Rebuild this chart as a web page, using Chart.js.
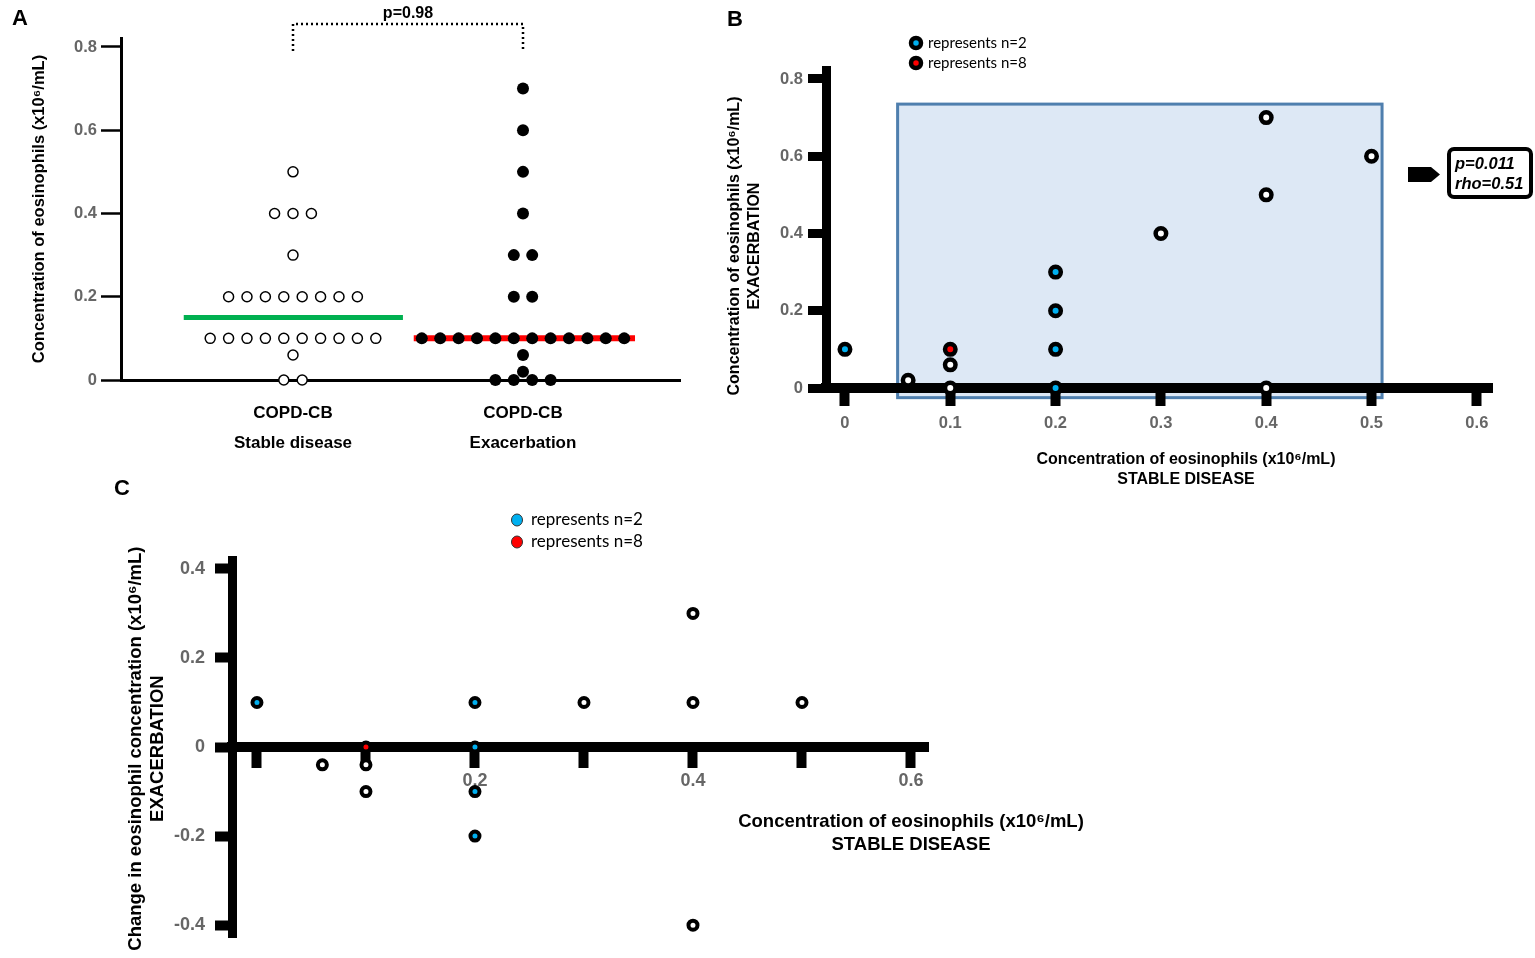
<!DOCTYPE html>
<html>
<head>
<meta charset="utf-8">
<title>Eosinophils in COPD-CB</title>
<script src="https://cdn.jsdelivr.net/npm/chart.js@4.4.1/dist/chart.umd.min.js"></script>
<style>
  html, body { margin: 0; padding: 0; background: #fff; }
  body { position: relative; width: 1535px; height: 958px; overflow: hidden; }
  canvas { position: absolute; }
  #panelA { left: 0; top: 0; }
  #panelB { left: 720px; top: 0; }
  #panelC { left: 100px; top: 480px; }
</style>
</head>
<body>
<canvas id="panelA" width="720" height="470"></canvas>
<canvas id="panelB" width="815" height="500"></canvas>
<canvas id="panelC" width="1000" height="478"></canvas>
<script>
// ---- panel A: eosinophils per patient (x10^6/mL)
const groups = ["Stable disease", "Exacerbation"];
const groupLabels = [["COPD-CB", "Stable disease"], ["COPD-CB", "Exacerbation"]];
const stableValues = [0.5, 0.4, 0.4, 0.4, 0.3,
    0.2, 0.2, 0.2, 0.2, 0.2, 0.2, 0.2, 0.2,
    0.1, 0.1, 0.1, 0.1, 0.1, 0.1, 0.1, 0.1, 0.1, 0.1,
    0.06, 0, 0];
const exacerbationValues = [0.7, 0.6, 0.5, 0.4, 0.3, 0.3, 0.2, 0.2,
    0.1, 0.1, 0.1, 0.1, 0.1, 0.1, 0.1, 0.1, 0.1, 0.1, 0.1, 0.1,
    0.06, 0.02, 0, 0, 0, 0];
const medians = [0.15, 0.1];
const pValueA = "p=0.98";
const yTicksA = [0, 0.2, 0.4, 0.6, 0.8];

// ---- panels B and C: one entry per plotted marker
const stableB = [0, 0.06, 0.1, 0.1, 0.1, 0.2, 0.2, 0.2, 0.2, 0.3, 0.4, 0.4, 0.4, 0.5];
const exacerbationB = [0.1, 0.02, 0.1, 0.06, 0, 0.3, 0.2, 0.1, 0, 0.4, 0.7, 0.5, 0, 0.6];
const changeC = [0.1, -0.04, 0, -0.04, -0.1, 0.1, 0, -0.1, -0.2, 0.1, 0.3, 0.1, -0.4, 0.1];
const pairsPerMarker = [2, 1, 8, 1, 1, 2, 2, 2, 2, 1, 1, 1, 1, 1];
const xTicksB = [0, 0.1, 0.2, 0.3, 0.4, 0.5, 0.6];
const yTicksB = [0, 0.2, 0.4, 0.6, 0.8];
const xTicksC = [0, 0.1, 0.2, 0.3, 0.4, 0.5, 0.6];
const xLabelledC = [0.2, 0.4, 0.6];
const yTicksC = [-0.4, -0.2, 0, 0.2, 0.4];
const statsB = ["p=0.011", "rho=0.51"];
const legendItems = [["represents n=2", 2], ["represents n=8", 8]];

const FONT = "'Liberation Sans', Arial, sans-serif";
const LEGEND_FONT = "Lato, 'Open Sans', sans-serif";
const GREY = "#666";
const BLUE = "#00b0f0";
const RED = "#ff0000";
const SWARM_STEP = 0.08;

Chart.defaults.font.family = FONT;
Chart.defaults.animation = false;

function centreColour(n) {
    return n === 8 ? RED : n === 2 ? BLUE : "#fff";
}

// spread equal values sideways around the group centre
function swarm(values, centre) {
    const counts = {}, seen = {};
    values.forEach(v => counts[v] = (counts[v] || 0) + 1);
    return values.map(v => {
        const k = seen[v] = (seen[v] || 0) + 1;
        return {x: centre + (k - 1 - (counts[v] - 1) / 2) * SWARM_STEP, y: v};
    });
}

function setTicks(values) {
    return scale => { scale.ticks = values.map(v => ({value: v})); };
}

function text(ctx, str, x, y, font, opts = {}) {
    ctx.save();
    ctx.font = font;
    ctx.fillStyle = opts.color || "#000";
    ctx.textAlign = opts.align || "center";
    ctx.textBaseline = "middle";
    ctx.translate(x, y);
    if (opts.rotate) ctx.rotate(opts.rotate);
    ctx.fillText(str, 0, 0);
    ctx.restore();
}

function ring(ctx, x, y, r, fill, width) {
    ctx.save();
    ctx.beginPath();
    ctx.arc(x, y, r, 0, Math.PI * 2);
    ctx.fillStyle = fill;
    ctx.fill();
    ctx.lineWidth = width;
    ctx.strokeStyle = "#000";
    ctx.stroke();
    ctx.restore();
}

const noLegend = {legend: {display: false}, tooltip: {enabled: false}};

// ==========================================
// A - scatter of both groups with medians
// ==========================================
const bracketA = {
    id: "bracketA",
    afterDraw(chart) {
        const {ctx, scales: {x}} = chart;
        const x1 = x.getPixelForValue(1), x2 = x.getPixelForValue(2);
        ctx.save();
        ctx.setLineDash([2, 3]);
        ctx.lineWidth = 2.5;
        ctx.strokeStyle = "#000";
        ctx.beginPath();
        ctx.moveTo(x1, 51);
        ctx.lineTo(x1, 24);
        ctx.lineTo(x2, 24);
        ctx.lineTo(x2, 51);
        ctx.stroke();
        ctx.restore();
        text(ctx, pValueA, (x1 + x2) / 2, 14, `bold 16px ${FONT}`);
        text(ctx, "A", 20, 19, `bold 22px ${FONT}`);
    }
};

new Chart(document.getElementById("panelA"), {
    type: "scatter",
    data: {
        datasets: [{
            label: groups[0],
            data: swarm(stableValues, 1),
            pointRadius: 5,
            pointBackgroundColor: "#fff",
            pointBorderColor: "#000",
            pointBorderWidth: 1.5,
            clip: false,
            order: 1
        }, {
            label: groups[1],
            data: swarm(exacerbationValues, 2),
            pointRadius: 6,
            pointBackgroundColor: "#000",
            pointBorderWidth: 0,
            clip: false,
            order: 1
        }, {
            type: "line",
            label: "Median " + groups[0],
            data: [{x: 0.525, y: medians[0]}, {x: 1.478, y: medians[0]}],
            borderColor: "#00b050",
            borderWidth: 5,
            pointRadius: 0,
            order: 2
        }, {
            type: "line",
            label: "Median " + groups[1],
            data: [{x: 1.525, y: medians[1]}, {x: 2.487, y: medians[1]}],
            borderColor: RED,
            borderWidth: 6,
            pointRadius: 0,
            order: 2
        }]
    },
    options: {
        responsive: false,
        layout: {padding: {left: 0, top: 38, right: 40, bottom: 0}},
        plugins: noLegend,
        scales: {
            x: {
                type: "linear",
                min: 0.2522,
                max: 2.6826,
                border: {color: "#000", width: 3},
                grid: {display: false, drawTicks: false},
                ticks: {
                    color: "#000",
                    font: {size: 17, weight: "bold", lineHeight: 30 / 17},
                    padding: 18,
                    maxRotation: 0,
                    autoSkip: false,
                    callback: (v, i) => groupLabels[i]
                },
                afterBuildTicks: setTicks([1, 2]),
                afterFit: s => { s.height = 90; }
            },
            y: {
                min: 0,
                max: 0.8216,
                border: {color: "#000", width: 3},
                grid: {drawOnChartArea: false, tickLength: 20, tickWidth: 2.5, tickColor: "#000", color: "#000"},
                ticks: {color: GREY, font: {size: 16.5, weight: "bold"}, padding: 4, callback: v => String(v)},
                afterBuildTicks: setTicks(yTicksA),
                afterFit: s => { s.width = 121; },
                title: {
                    display: true,
                    text: "Concentration of eosinophils (x10⁶/mL)",
                    color: "#000",
                    font: {size: 16.5, weight: "bold", lineHeight: 1.2},
                    padding: {top: 30, bottom: 0}
                }
            }
        }
    },
    plugins: [bracketA]
});

// ==========================================
// B - stable vs exacerbation, paired
// ==========================================
const regionB = {x: [0.05, 0.51], y: [-0.025, 0.735]};

const decorB = {
    id: "decorB",
    beforeDraw(chart) {
        const {ctx, scales: {x, y}} = chart;
        const left = x.getPixelForValue(regionB.x[0]), right = x.getPixelForValue(regionB.x[1]);
        const top = y.getPixelForValue(regionB.y[1]), bottom = y.getPixelForValue(regionB.y[0]);
        ctx.save();
        ctx.fillStyle = "#dde8f5";
        ctx.fillRect(left, top, right - left, bottom - top);
        ctx.lineWidth = 3;
        ctx.strokeStyle = "#4f7fae";
        ctx.strokeRect(left, top, right - left, bottom - top);
        ctx.restore();
    },
    afterDraw(chart) {
        const ctx = chart.ctx;
        text(ctx, "B", 15, 20, `bold 22px ${FONT}`);
        legendItems.forEach(([name, n], i) => {
            ring(ctx, 196, 43 + i * 20, 5, centreColour(n), 4.5);
            text(ctx, name, 208, 43 + i * 20, `15px ${LEGEND_FONT}`, {align: "left"});
        });
        // arrow + stats box
        ctx.save();
        ctx.fillStyle = "#000";
        ctx.beginPath();
        ctx.moveTo(688, 167);
        ctx.lineTo(711, 167);
        ctx.lineTo(720, 174.5);
        ctx.lineTo(711, 182);
        ctx.lineTo(688, 182);
        ctx.closePath();
        ctx.fill();
        ctx.lineWidth = 4;
        ctx.strokeStyle = "#000";
        ctx.beginPath();
        ctx.roundRect(729, 149, 82, 48, 5);
        ctx.stroke();
        ctx.restore();
        statsB.forEach((s, i) => text(ctx, s, 735, 164 + i * 20, `italic bold 16.5px ${FONT}`, {align: "left"}));
        // axis titles
        text(ctx, "Concentration of eosinophils (x10⁶/mL)", 15, 246, `bold 16px ${FONT}`, {rotate: -Math.PI / 2});
        text(ctx, "EXACERBATION", 35, 246, `bold 16px ${FONT}`, {rotate: -Math.PI / 2});
        text(ctx, "Concentration of eosinophils (x10⁶/mL)", 466, 460, `bold 16px ${FONT}`);
        text(ctx, "STABLE DISEASE", 466, 480, `bold 16px ${FONT}`);
    }
};

new Chart(document.getElementById("panelB"), {
    type: "scatter",
    data: {
        datasets: [{
            label: "Stable vs exacerbation",
            data: stableB.map((v, i) => ({x: v, y: exacerbationB[i]})),
            pointRadius: 5.25,
            pointBorderWidth: 4.5,
            pointBorderColor: "#000",
            pointBackgroundColor: pairsPerMarker.map(centreColour),
            clip: false
        }]
    },
    options: {
        responsive: false,
        layout: {padding: {left: 0, top: 70, right: 43, bottom: 0}},
        plugins: noLegend,
        scales: {
            x: {
                type: "linear",
                min: -0.018,
                max: 0.6144,
                border: {color: "#000", width: 10},
                grid: {drawOnChartArea: false, tickLength: 18, tickWidth: 10, tickColor: "#000", color: "#000"},
                ticks: {color: GREY, font: {size: 16.5, weight: "bold"}, padding: 8, maxRotation: 0, autoSkip: false, callback: v => String(v)},
                afterBuildTicks: setTicks(xTicksB),
                afterFit: s => { s.height = 112; }
            },
            y: {
                min: 0,
                max: 0.8233,
                border: {color: "#000", width: 9},
                grid: {drawOnChartArea: false, tickLength: 18, tickWidth: 9, tickColor: "#000", color: "#000"},
                ticks: {color: GREY, font: {size: 16.5, weight: "bold"}, padding: 5, callback: v => String(v)},
                afterBuildTicks: setTicks(yTicksB),
                afterFit: s => { s.width = 106; }
            }
        }
    },
    plugins: [decorB]
});

// ==========================================
// C - change at exacerbation vs stable value
// ==========================================
const decorC = {
    id: "decorC",
    afterDraw(chart) {
        const ctx = chart.ctx;
        text(ctx, "C", 22, 9, `bold 22px ${FONT}`);
        legendItems.forEach(([name, n], i) => {
            ctx.save();
            ctx.beginPath();
            ctx.ellipse(417, 40 + i * 22, 5.5, 6, 0, 0, Math.PI * 2);
            ctx.fillStyle = centreColour(n);
            ctx.fill();
            ctx.lineWidth = 1;
            ctx.strokeStyle = "#333";
            ctx.stroke();
            ctx.restore();
            text(ctx, name, 431, 40 + i * 22, `17px ${LEGEND_FONT}`, {align: "left"});
        });
        text(ctx, "Concentration of eosinophils (x10⁶/mL)", 811, 342, `bold 18.5px ${FONT}`);
        text(ctx, "STABLE DISEASE", 811, 365, `bold 18.5px ${FONT}`);
    }
};

new Chart(document.getElementById("panelC"), {
    type: "scatter",
    data: {
        datasets: [{
            label: "Change in eosinophil concentration",
            data: stableB.map((v, i) => ({x: v, y: changeC[i]})),
            pointRadius: 4.5,
            pointBorderWidth: 4,
            pointBorderColor: "#000",
            pointBackgroundColor: pairsPerMarker.map(centreColour),
            clip: false
        }]
    },
    options: {
        responsive: false,
        layout: {padding: {left: 0, top: 80, right: 172, bottom: 18}},
        plugins: noLegend,
        scales: {
            x: {
                type: "linear",
                position: {y: 0},
                min: -0.0229,
                max: 0.6156,
                border: {color: "#000", width: 10},
                grid: {drawOnChartArea: false, tickLength: 16, tickWidth: 10, tickColor: "#000", color: "#000"},
                ticks: {
                    color: GREY,
                    font: {size: 18, weight: "bold"},
                    padding: 7,
                    maxRotation: 0,
                    autoSkip: false,
                    callback: v => xLabelledC.includes(v) ? String(v) : ""
                },
                afterBuildTicks: setTicks(xTicksC)
            },
            y: {
                position: "left",
                min: -0.427,
                max: 0.42,
                border: {color: "#000", width: 9},
                grid: {drawOnChartArea: false, tickLength: 17, tickWidth: 10, tickColor: "#000", color: "#000"},
                ticks: {color: GREY, font: {size: 18, weight: "bold"}, padding: 10, callback: v => String(v)},
                afterBuildTicks: setTicks(yTicksC),
                afterFit: s => { s.width = 132; },
                title: {
                    display: true,
                    text: ["Change in eosinophil concentration (x10⁶/mL)", "EXACERBATION"],
                    color: "#000",
                    font: {size: 18.5, weight: "bold", lineHeight: 1.19},
                    padding: {top: 25, bottom: 0}
                }
            }
        }
    },
    plugins: [decorC]
});
</script>
</body>
</html>
